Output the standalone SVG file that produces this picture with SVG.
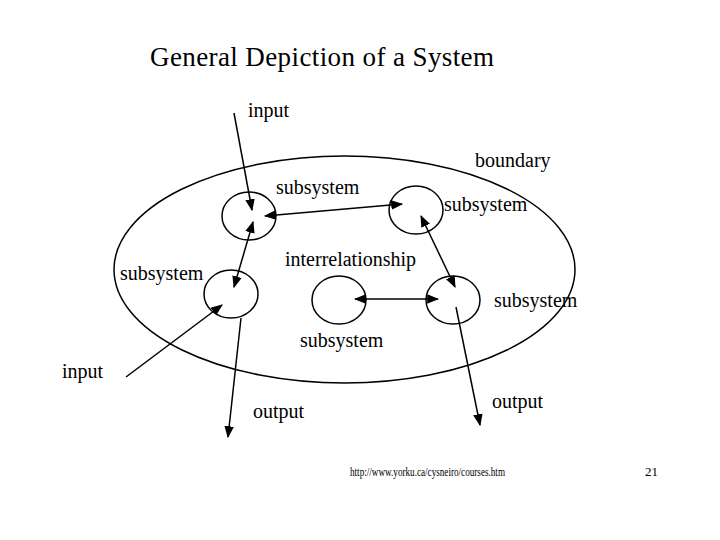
<svg xmlns="http://www.w3.org/2000/svg" width="720" height="540" viewBox="0 0 720 540">
<style>
text{font-family:"Liberation Serif","Times New Roman",serif;fill:#000;font-size:20px}
.s{fill:none;stroke:#000;stroke-width:1.5}
.c{stroke:#000;stroke-width:1.5;fill:none}
</style>
<defs>
<marker id="a" viewBox="0 0 10 10" refX="9" refY="5" markerWidth="8" markerHeight="8" orient="auto-start-reverse"><path d="M0,1 L10,5 L0,9 z" fill="#000"/></marker>
</defs>
<rect width="720" height="540" fill="#fff"/>
<text x="150" y="66" style="font-size:27px" textLength="344">General Depiction of a System</text>
<g id="boundary"><ellipse class="s" cx="344.5" cy="269.5" rx="230.5" ry="113.5"/><text x="475" y="167">boundary</text></g>
<g id="s1"><ellipse class="s" cx="249" cy="216" rx="27" ry="24"/><text x="276" y="194">subsystem</text></g>
<g id="s2"><ellipse class="s" cx="416" cy="210" rx="27" ry="24"/><text x="444" y="211">subsystem</text></g>
<g id="s3"><ellipse class="s" cx="231" cy="294" rx="27" ry="24"/><text x="120" y="280">subsystem</text></g>
<g id="s4"><ellipse class="s" cx="339" cy="300" rx="27" ry="24"/><text x="300" y="347">subsystem</text></g>
<g id="s5"><ellipse class="s" cx="453" cy="300" rx="27" ry="24"/><text x="494" y="307">subsystem</text></g>
<g id="labels">
<text x="248" y="117">input</text>
<text x="285" y="266">interrelationship</text>
<text x="62" y="378">input</text>
<text x="253" y="418">output</text>
<text x="492" y="408">output</text>
<text x="350" y="476" style="font-size:13px" textLength="155" lengthAdjust="spacingAndGlyphs">http://www.yorku.ca/cysneiro/courses.htm</text>
<text x="645" y="476" style="font-size:13px">21</text>
</g>
<g id="connectors">
<line class="c" x1="234" y1="113" x2="252" y2="210" marker-end="url(#a)"/>
<line class="c" x1="265" y1="216" x2="402" y2="204" marker-start="url(#a)" marker-end="url(#a)"/>
<line class="c" x1="253" y1="222" x2="234" y2="287" marker-start="url(#a)" marker-end="url(#a)"/>
<line class="c" x1="421" y1="216" x2="455" y2="287" marker-start="url(#a)" marker-end="url(#a)"/>
<line class="c" x1="355" y1="299" x2="438" y2="299" marker-start="url(#a)" marker-end="url(#a)"/>
<line class="c" x1="126" y1="377" x2="222" y2="305" marker-end="url(#a)"/>
<line class="c" x1="241" y1="318" x2="228" y2="437" marker-end="url(#a)"/>
<line class="c" x1="456" y1="307" x2="480" y2="425" marker-end="url(#a)"/>
</g>
</svg>
